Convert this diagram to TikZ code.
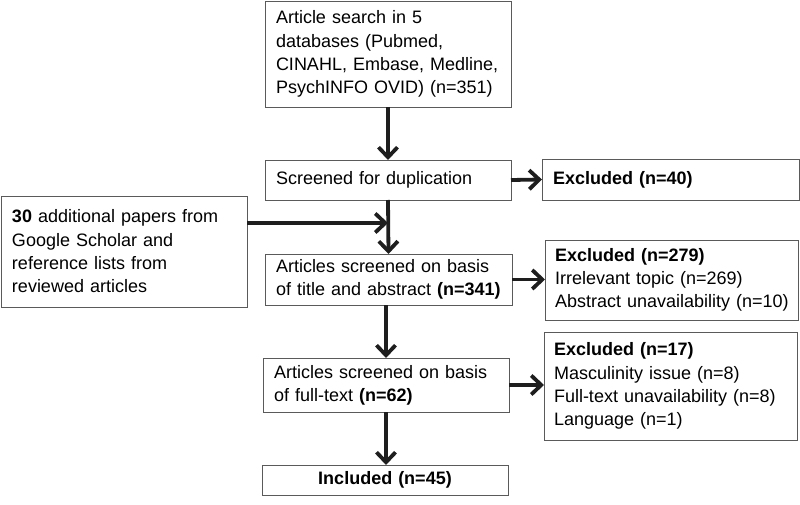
\documentclass[tikz,border=0pt]{standalone}
\usepackage{fontspec}
\setmainfont{Liberation Sans}
\usetikzlibrary{arrows.meta}
\definecolor{boxline}{HTML}{5A5A5A}
\definecolor{arrowc}{HTML}{1E1E1E}
\begin{document}
\begin{tikzpicture}[x=1pt,y=-1pt,
  box/.style={draw=boxline, line width=0.9pt, rectangle, inner xsep=11pt, inner ysep=0pt,
    outer sep=0pt, align=left, font=\fontsize{18}{23.3}\selectfont, fill=white},
  flowarrow/.style={draw=arrowc, line width=3.8pt,
    -{Straight Barb[length=10pt,width=19pt,line width=3.8pt]}}]
\useasboundingbox (0,0) rectangle (800,505);

\node[box, text width=224pt, minimum height=106pt] (b1) at (388,54)
  {Article search in 5\\databases (Pubmed,\\CINAHL, Embase, Medline,\\PsychINFO OVID) (n=351)};
\node[box, text width=224pt, minimum height=40pt] (b2) at (388,180)
  {Screened for duplication};
\node[box, text width=235pt, minimum height=41pt] (ex40) at (670.5,179.5)
  {\textbf{Excluded (n=40)}};
\node[box, text width=224pt, minimum height=111pt] (add) at (124,251.5)
  {\textbf{30} additional papers from\\Google Scholar and\\reference lists from\\reviewed articles};
\node[box, text width=225pt, minimum height=51pt] (b3) at (388.5,279.5)
  {Articles screened on basis\\of title and abstract \textbf{(n=341)}};
\node[box, inner xsep=10pt, text width=233pt, minimum height=80pt] (ex279) at (671.5,280)
  {\textbf{Excluded (n=279)}\\Irrelevant topic (n=269)\\\mbox{Abstract unavailability (n=10)}};
\node[box, inner xsep=10pt, text width=233pt, minimum height=108pt] (ex17) at (670.5,386)
  {\textbf{Excluded (n=17)}\\Masculinity issue (n=8)\\Full-text unavailability (n=8)\\Language (n=1)};
\node[box, text width=224pt, minimum height=54pt] (b4) at (386,385)
  {Articles screened on basis\\of full-text \textbf{(n=62)}};
\node[box, text width=224pt, minimum height=30pt, align=center] (b5) at (385,480)
  {\textbf{Included (n=45)}};

\coordinate (join) at (388,223);

\draw[flowarrow] (b1.south) -- (b2.north);
\draw[flowarrow] (b2.south) -- (b3.north);
\draw[flowarrow] (join -| add.east) -- (join);
\draw[flowarrow] (b2.east) -- (ex40.west);
\draw[flowarrow] (b3.east) -- (b3.east -| ex279.west);
\draw[flowarrow] (b3.south -| b4.north) -- (b4.north);
\draw[flowarrow] (b4.east) -- (b4.east -| ex17.west);
\draw[flowarrow] (b4.south) -- (b5.north -| b4.south);
\end{tikzpicture}
\end{document}
